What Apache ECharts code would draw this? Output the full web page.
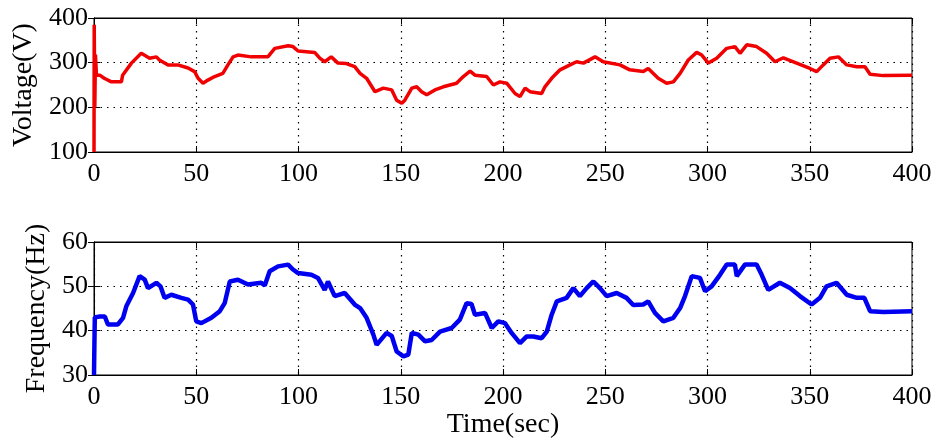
<!DOCTYPE html>
<html>
<head>
<meta charset="utf-8">
<script src="https://cdn.jsdelivr.net/npm/echarts@6/dist/echarts.min.js"></script>
<style>html,body{margin:0;padding:0;background:#fff}#c{width:936px;height:441px}</style>
</head>
<body>
<div id="c"></div>
<script>
// Voltage (V) vs time (sec)
var voltTime = [0,0.1,0.4,0.7,1.2,2.8,5,8.5,13.4,14,18.3,23.1,27.2,30.5,32,36.2,41,46,49.2,50.9,53.3,55.7,59,63,65.5,68,70.4,76.9,85,88.4,94.9,97.3,99.8,107.9,110.4,112.8,116,119.3,123.4,127.5,130.1,133.3,137.4,141.5,145.6,148,150.5,152,155.4,157.8,160.2,162.7,166.7,170.8,177.3,180.6,183.9,186.3,192,195.3,198.5,201.8,205.9,208.3,210.8,213.2,218.9,220.5,223.8,227.9,232.8,236,239.3,245,249,257.2,262,268.6,271,275.9,280,283.3,286.6,290.6,294.7,297.2,300.4,304.5,309.4,313.4,315.9,319.2,324,328.9,333,337.1,343.6,350.1,353.4,356.6,359.9,364,368.1,373,377,379.5,386,400];
var voltValues = [100,385,200,318,272,272,265,257,257,272,299,321,310,313,306,295,295,288,280,265,254,261,269,276,295,313,317,313,313,332,338,336,326,323,310,302,313,299,298,291,276,265,235,243,239,216,209,216,243,246,235,228,239,246,254,269,281,272,269,250,257,254,231,224,243,235,231,246,265,284,295,302,299,313,302,295,284,280,287,265,254,257,276,306,323,317,299,310,332,336,321,340,336,321,302,311,299,287,280,295,310,313,295,291,291,274,271,272];

// Frequency (Hz) vs time (sec)
var freqTime = [0,0.2,0.4,2.8,5.3,6.8,11.7,14.2,15.8,19.1,22.3,24.8,26.4,30.5,32.5,34.5,37.8,42.7,46,48.4,50,52.5,57.4,61.5,63.9,66.4,70.4,75.3,81.8,83.5,85.9,90,94.9,97.3,99.8,106.3,109.5,112.8,114.4,117.7,122.6,127.5,130.1,133.3,136.6,138.2,143.1,145.6,148,151.3,153.7,155.4,158.6,161.9,165.1,169.2,174.9,178.9,182.2,184.6,186.3,191.2,194.5,197.7,201,204.2,208.3,211.6,214.8,218.9,221.4,223.8,226.3,231.1,234.4,237.6,240.9,244.2,247.4,250.7,255.6,260.4,263.7,268.6,271,274.3,278.4,283.3,286.6,289,292.3,296.3,298.8,302,306.1,309.4,313.4,314.3,318.3,324,326.5,329.7,335.4,340.3,345.2,350.9,355,358.2,363.1,368.1,373,376.7,379.5,386,400];
var freqValues = [30,37,43,43.2,43.2,41.4,41.4,42.9,45.5,48.5,52.3,51.5,49.6,50.8,50,47.4,48.1,47.4,47,45.9,42.1,41.7,42.9,44.4,46.2,51.1,51.5,50.4,50.8,50.2,53.4,54.5,54.9,53.8,53,52.6,51.9,49.2,51.1,47.8,48.5,45.9,45.1,42.9,39.1,36.8,39.5,38.8,35.3,34.2,34.6,39.5,39.1,37.6,37.9,39.8,40.6,42.5,46.2,46,43.6,44,40.6,42.1,41.7,39.5,37.2,38.7,38.7,38.3,39.8,43.6,46.6,47.4,49.6,47.8,49.6,51.1,49.6,47.8,48.5,47.4,45.8,45.9,46.6,44,42.1,42.9,45.1,47.8,52.3,51.9,48.9,50,52.6,54.9,54.9,52.3,54.9,54.9,52.6,49.2,50.8,49.6,47.8,45.9,47.4,50,50.8,48.1,47.4,47.4,44.4,44.2,44.4];

var xTicks = [0,50,100,150,200,250,300,350,400];
var voltTicks = [100,200,300,400];
var freqTicks = [30,40,50,60];

function pairs(t, v){ return t.map(function(x,i){ return [x, v[i]]; }); }

var FONT = 'Liberation Serif';
var tickLabel = {color:'#000', fontFamily:FONT, fontSize:26};
var splitDotted = {show:true, lineStyle:{color:'#000', type:[1.5,5], width:1.2}};
var axLine = {show:true, lineStyle:{color:'#000', width:1}};
var tick = {show:true, inside:true, length:6, lineStyle:{color:'#000', width:1}};

function xAx(grid, primary, name){
  var o = {type:'value', gridIndex:grid, min:xTicks[0], max:xTicks[xTicks.length-1], interval:50,
    position: primary ? 'bottom':'top', axisLine:axLine, axisTick:tick,
    axisLabel: primary ? Object.assign({margin:9}, tickLabel) : {show:false},
    splitLine: primary ? splitDotted : {show:false}};
  if (name){ o.name = name; o.nameLocation='middle'; o.nameGap=36; o.nameTextStyle={color:'#000', fontFamily:FONT, fontSize:28}; }
  return o;
}
function yAx(grid, primary, ticks, name, gap){
  var o = {type:'value', gridIndex:grid, min:ticks[0], max:ticks[ticks.length-1], interval:ticks[1]-ticks[0],
    position: primary ? 'left':'right', axisLine:axLine, axisTick:tick,
    axisLabel: primary ? Object.assign({margin:6}, tickLabel) : {show:false},
    splitLine: primary ? splitDotted : {show:false}};
  if (name){ o.name = name; o.nameLocation='middle'; o.nameGap=gap; o.nameTextStyle={color:'#000', fontFamily:FONT, fontSize:28}; }
  return o;
}

var chart = echarts.init(document.getElementById('c'), null, {renderer:'canvas'});
chart.setOption({
  animation:false,
  backgroundColor:'#fff',
  grid:[
    {left:94, top:18, width:818, height:134, show:true, borderColor:'#000', borderWidth:1},
    {left:94, top:242, width:818, height:133, show:true, borderColor:'#000', borderWidth:1}
  ],
  xAxis:[ xAx(0,true), xAx(0,false), xAx(1,true,'Time(sec)'), xAx(1,false) ],
  yAxis:[ yAx(0,true,voltTicks,'Voltage(V)',56), yAx(0,false,voltTicks), yAx(1,true,freqTicks,'Frequency(Hz)',43), yAx(1,false,freqTicks) ],
  series:[
    {type:'line', xAxisIndex:0, yAxisIndex:0, data:pairs(voltTime, voltValues), showSymbol:false, symbol:'none',
     lineStyle:{color:'#f00000', width:3.5}, clip:true},
    {type:'line', xAxisIndex:2, yAxisIndex:2, data:pairs(freqTime, freqValues), showSymbol:false, symbol:'none',
     lineStyle:{color:'#0000f0', width:4.5}, clip:true}
  ]
});
</script>
</body>
</html>
